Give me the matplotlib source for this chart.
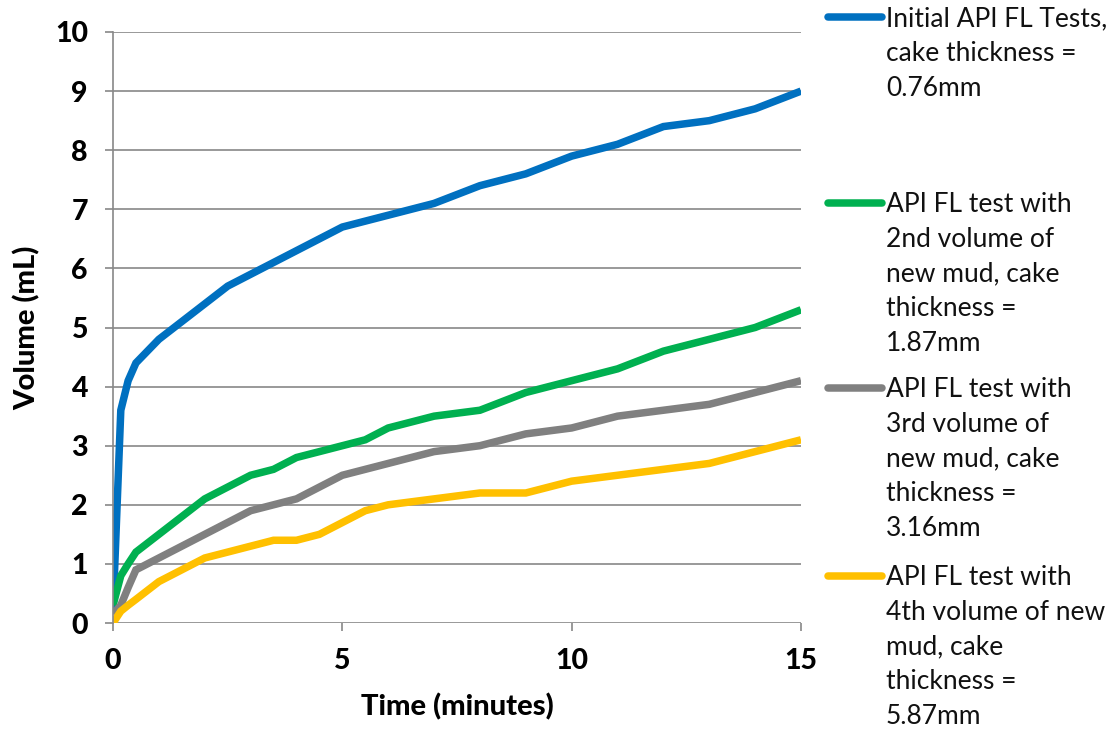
import matplotlib.pyplot as plt
from matplotlib.lines import Line2D

# time readings (minutes)
time_min = [0, 0.17, 0.33, 0.5, 1, 2, 2.5, 3, 3.5, 4, 4.5, 5, 5.5, 6, 7, 8, 9, 10, 11, 12, 13, 14, 15]

vol_initial = [0.2, 3.6, 4.1, 4.4, 4.8, 5.4, 5.7, 5.9, 6.1, 6.3, 6.5, 6.7, 6.8, 6.9, 7.1, 7.4, 7.6, 7.9, 8.1, 8.4, 8.5, 8.7, 9.0]
vol_2nd = [0.3, 0.8, 1.0, 1.2, 1.5, 2.1, 2.3, 2.5, 2.6, 2.8, 2.9, 3.0, 3.1, 3.3, 3.5, 3.6, 3.9, 4.1, 4.3, 4.6, 4.8, 5.0, 5.3]
vol_3rd = [0.15, 0.3, 0.6, 0.9, 1.1, 1.5, 1.7, 1.9, 2.0, 2.1, 2.3, 2.5, 2.6, 2.7, 2.9, 3.0, 3.2, 3.3, 3.5, 3.6, 3.7, 3.9, 4.1]
vol_4th = [0.0, 0.2, 0.3, 0.4, 0.7, 1.1, 1.2, 1.3, 1.4, 1.4, 1.5, 1.7, 1.9, 2.0, 2.1, 2.2, 2.2, 2.4, 2.5, 2.6, 2.7, 2.9, 3.1]

labels = [
    "Initial API FL Tests,\ncake thickness =\n0.76mm",
    "API FL test with\n2nd volume of\nnew mud, cake\nthickness =\n1.87mm",
    "API FL test with\n3rd volume of\nnew mud, cake\nthickness =\n3.16mm",
    "API FL test with\n4th volume of new\nmud, cake\nthickness =\n5.87mm",
]
colors = ["#0070C0", "#00B050", "#808080", "#FFC000"]

plt.rcParams["font.family"] = ["Lato", "DejaVu Sans"]

W, H = 1116, 730
fig = plt.figure(figsize=(W / 100, H / 100), dpi=100)
ax = fig.add_axes([113 / W, 1 - 623 / H, (801 - 113) / W, (623 - 32) / H])

series = [vol_initial, vol_2nd, vol_3rd, vol_4th]
for vals, c in zip(series, colors):
    ax.plot(time_min, vals, color=c, lw=5.4, solid_joinstyle="miter", solid_capstyle="butt")

ax.set_xlim(0, 15)
ax.set_ylim(0, 10)
ax.set_xticks([0, 5, 10, 15])
ax.set_yticks(range(0, 11))
ax.grid(axis="y", color="#888888", lw=1.2)
ax.set_axisbelow(True)
for s in ["top", "right", "bottom"]:
    ax.spines[s].set_visible(False)
ax.spines["left"].set_color("#888888")
ax.spines["left"].set_linewidth(1.2)
ax.tick_params(axis="both", color="#888888", width=1.2, length=6, labelsize=20.5)
ax.tick_params(axis="x", pad=12)
ax.tick_params(axis="y", pad=12)
for lab in ax.get_xticklabels() + ax.get_yticklabels():
    lab.set_fontweight("black")

ax.set_xlabel("Time (minutes)", fontsize=21, fontweight="black", labelpad=14)
ax.set_ylabel("Volume (mL)", fontsize=21, fontweight="black", labelpad=10)

# legend on the right, one slot per series
slot_y = [17, 203, 388, 576]
for lab, c, y in zip(labels, colors, slot_y):
    fy = 1 - y / H
    fig.add_artist(Line2D([828 / W, 882 / W], [fy, fy], color=c, lw=5.4,
                          solid_capstyle="round", transform=fig.transFigure))
    fig.text(886 / W, fy + 11 / H, lab, fontsize=19, va="top", ha="left",
             linespacing=1.49, color="#111111")

fig.savefig("out.png", dpi=100)
